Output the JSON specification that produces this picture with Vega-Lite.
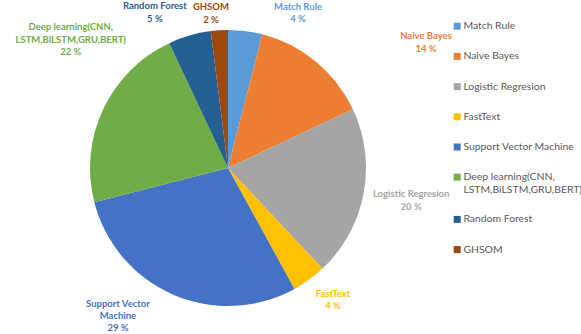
{
  "$schema": "https://vega.github.io/schema/vega-lite/v6.json",
  "width": 456,
  "height": 332,
  "autosize": {"type": "none"},
  "padding": {"left": 0, "top": 2, "right": 125, "bottom": 0},
  "background": "white",
  "config": {"view": {"stroke": null}, "text": {"font": "Lato"}},
  "data": {"values": [
    {"method": "Match Rule", "share": 4, "i": 1, "label": "Match Rule\n4 %"},
    {"method": "Naive Bayes", "share": 14, "i": 2, "label": "Naive Bayes\n14 %"},
    {"method": "Logistic Regresion", "share": 20, "i": 3, "label": "Logistic Regresion\n20 %"},
    {"method": "FastText", "share": 4, "i": 4, "label": "FastText\n4 %"},
    {"method": "Support Vector Machine", "share": 29, "i": 5, "label": "Support Vector\nMachine\n29 %"},
    {"method": "Deep learning(CNN, LSTM,BiLSTM,GRU,BERT)", "share": 22, "i": 6, "label": "Deep learning(CNN,\nLSTM,BiLSTM,GRU,BERT)\n22 %"},
    {"method": "Random Forest", "share": 5, "i": 7, "label": "Random Forest\n5 %"},
    {"method": "GHSOM", "share": 2, "i": 8, "label": "GHSOM\n2 %"}
  ]},
  "encoding": {
    "theta": {"field": "share", "type": "quantitative", "stack": true},
    "order": {"field": "i", "type": "quantitative"},
    "color": {
      "field": "method",
      "type": "nominal",
      "scale": {
        "domain": ["Match Rule", "Naive Bayes", "Logistic Regresion", "FastText", "Support Vector Machine", "Deep learning(CNN, LSTM,BiLSTM,GRU,BERT)", "Random Forest", "GHSOM"],
        "range": ["#5B9BD5", "#ED7D31", "#A5A5A5", "#FFC000", "#4472C4", "#70AD47", "#255E91", "#9E480E"]
      },
      "legend": {
        "title": null,
        "orient": "none",
        "legendX": 452,
        "legendY": 19,
        "symbolType": "square",
        "symbolSize": 49,
        "symbolStrokeWidth": 0,
        "labelFont": "Lato",
        "labelFontSize": 10.4,
        "labelColor": "#595959",
        "labelOffset": 1,
        "labelLimit": 200,
        "rowPadding": 19.2,
        "labelExpr": "datum.label === 'Deep learning(CNN, LSTM,BiLSTM,GRU,BERT)' ? ['Deep learning(CNN,', 'LSTM,BiLSTM,GRU,BERT)'] : datum.label"
      }
    }
  },
  "layer": [
    {"mark": {"type": "arc", "outerRadius": 138}},
    {"mark": {"type": "text", "radius": 160, "dx": 50, "dy": -2.6, "fontWeight": "bold", "fontSize": 9.5, "lineHeight": 12.5, "lineBreak": "\n"},
     "encoding": {"text": {"condition": {"test": "datum.method === 'Match Rule'", "field": "label"}, "value": ""}}},
    {"mark": {"type": "text", "radius": 160, "dx": 96, "dy": -8.7, "fontWeight": "bold", "fontSize": 9.5, "lineHeight": 12.5, "lineBreak": "\n"},
     "encoding": {"text": {"condition": {"test": "datum.method === 'Naive Bayes'", "field": "label"}, "value": ""}}},
    {"mark": {"type": "text", "radius": 160, "dx": 26, "dy": -3.7, "fontWeight": "bold", "fontSize": 9.5, "lineHeight": 12.5, "lineBreak": "\n"},
     "encoding": {"text": {"condition": {"test": "datum.method === 'Logistic Regresion'", "field": "label"}, "value": ""}}},
    {"mark": {"type": "text", "radius": 160, "dx": 11, "dy": -3.7, "fontWeight": "bold", "fontSize": 9.5, "lineHeight": 12.5, "lineBreak": "\n"},
     "encoding": {"text": {"condition": {"test": "datum.method === 'FastText'", "field": "label"}, "value": ""}}},
    {"mark": {"type": "text", "radius": 160, "dx": -46.5, "dy": -11, "fontWeight": "bold", "fontSize": 9.5, "lineHeight": 12, "lineBreak": "\n"},
     "encoding": {"text": {"condition": {"test": "datum.method === 'Support Vector Machine'", "field": "label"}, "value": ""}}},
    {"mark": {"type": "text", "radius": 160, "dx": -12.5, "dy": -72.8, "fontWeight": "bold", "fontSize": 9.5, "lineHeight": 12.5, "lineBreak": "\n"},
     "encoding": {"text": {"condition": {"test": "datum.method === 'Deep learning(CNN, LSTM,BiLSTM,GRU,BERT)'", "field": "label"}, "value": ""}}},
    {"mark": {"type": "text", "radius": 160, "dx": -28.5, "dy": -8.7, "fontWeight": "bold", "fontSize": 9.5, "lineHeight": 13, "lineBreak": "\n"},
     "encoding": {"text": {"condition": {"test": "datum.method === 'Random Forest'", "field": "label"}, "value": ""}}},
    {"mark": {"type": "text", "radius": 160, "dx": -7, "dy": -1.6, "fontWeight": "bold", "fontSize": 9.5, "lineHeight": 13, "lineBreak": "\n"},
     "encoding": {"text": {"condition": {"test": "datum.method === 'GHSOM'", "field": "label"}, "value": ""}}}
  ]
}
